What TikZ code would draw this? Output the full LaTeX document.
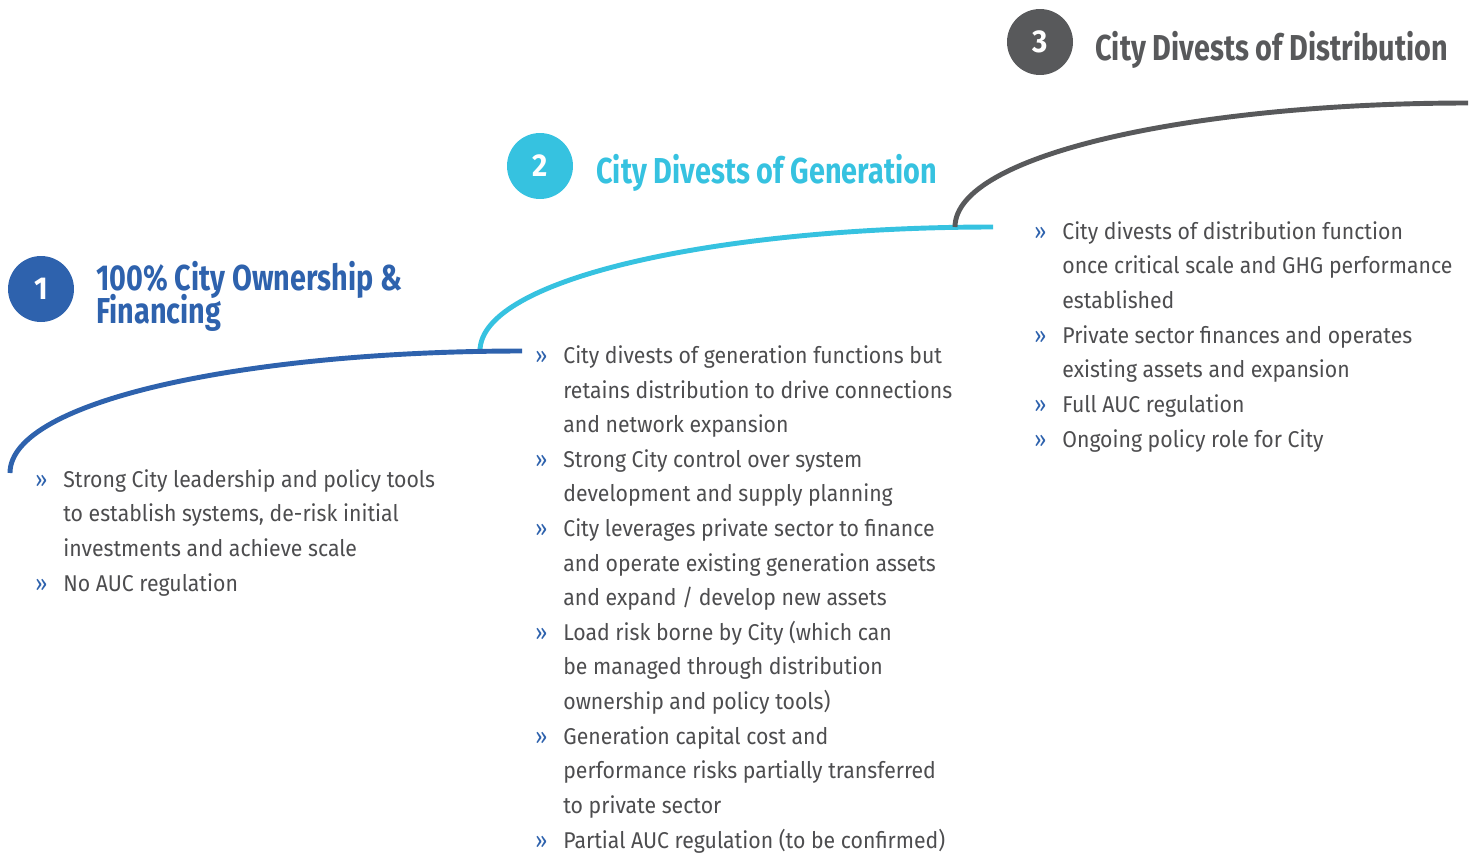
\documentclass[tikz,border=0pt]{standalone}
\usepackage{fontspec}
\setmainfont{Fira Sans}[FakeStretch=0.93]
\newfontfamily\headfont{Fira Sans}[FakeStretch=0.80]
\definecolor{CBlue}{HTML}{2E62AD}
\definecolor{CCyan}{HTML}{36C2E0}
\definecolor{CGrey}{HTML}{58595B}
\definecolor{CText}{HTML}{4D4D4F}
\tikzset{
    stepno/.style = {circle, minimum size=1.32cm, inner sep=0pt,
        text=white, font=\bfseries\fontsize{18}{18}\selectfont},
    title/.style = {anchor=base west, inner sep=0pt, align=left,
        font=\headfont\bfseries\fontsize{20.5}{16.4}\selectfont},
    bullets/.style = {anchor=base west, inner sep=0pt, align=left,
        text=CText, font=\fontsize{13}{19.7}\selectfont},
    stage/.style = {line width=2.8pt}
}
\newcommand{\bul}{\llap{\textcolor{CBlue}{»}\hspace{0.32cm}}}

\begin{document}
\begin{tikzpicture}[x=0.02cm, y=-0.02cm]
    \useasboundingbox (0,0) rectangle (1478,853);
    % step curves
    \coordinate (s1) at (10,473);   \coordinate (e1) at (522,351);
    \coordinate (s2) at (480,351);  \coordinate (e2) at (993,227);
    \coordinate (s3) at (955,227);  \coordinate (e3) at (1468,103);
    \draw [stage,CCyan] (s2) .. controls +(0,-73) and +(-272,0) .. (e2);
    \draw [stage,CGrey] (s3) .. controls +(0,-73) and +(-272,0) .. (e3);
    \draw [stage,CBlue] (s1) .. controls +(0,-73) and +(-272,0) .. (e1);
    % numbered circles and titles (placed at their last baseline)
    \node [stepno, fill=CBlue] (n1) at (41,289) {1};
    \node [stepno, fill=CCyan] (n2) at (540,166) {2};
    \node [stepno, fill=CGrey] (n3) at (1040,42) {3};
    \node [title, text=CBlue] (t1) at (96,323) {100\% City Ownership \&\\[-3.5pt]Financing};
    \node [title, text=CCyan] (t2) at (596,183) {City Divests of Generation};
    \node [title, text=CGrey] (t3) at (1095,60) {City Divests of Distribution};
    % bullet lists
    \node [bullets] (b1) at (63,591) {%
        \bul Strong City leadership and policy tools\\
        to establish systems, de-risk initial\\
        investments and achieve scale\\
        \bul No AUC regulation};
    \node [bullets] (b2) at (563,848) {%
        \bul City divests of generation functions but\\
        retains distribution to drive connections\\
        and network expansion\\
        \bul Strong City control over system\\
        development and supply planning\\
        \bul City leverages private sector to finance\\
        and operate existing generation assets\\
        and expand / develop new assets\\
        \bul Load risk borne by City (which can\\
        be managed through distribution\\
        ownership and policy tools)\\
        \bul Generation capital cost and\\
        performance risks partially transferred\\
        to private sector\\
        \bul Partial AUC regulation (to be confirmed)};
    \node [bullets] (b3) at (1062,447) {%
        \bul City divests of distribution function\\
        once critical scale and GHG performance\\
        established\\
        \bul Private sector finances and operates\\
        existing assets and expansion\\
        \bul Full AUC regulation\\
        \bul Ongoing policy role for City};
\end{tikzpicture}
\end{document}
